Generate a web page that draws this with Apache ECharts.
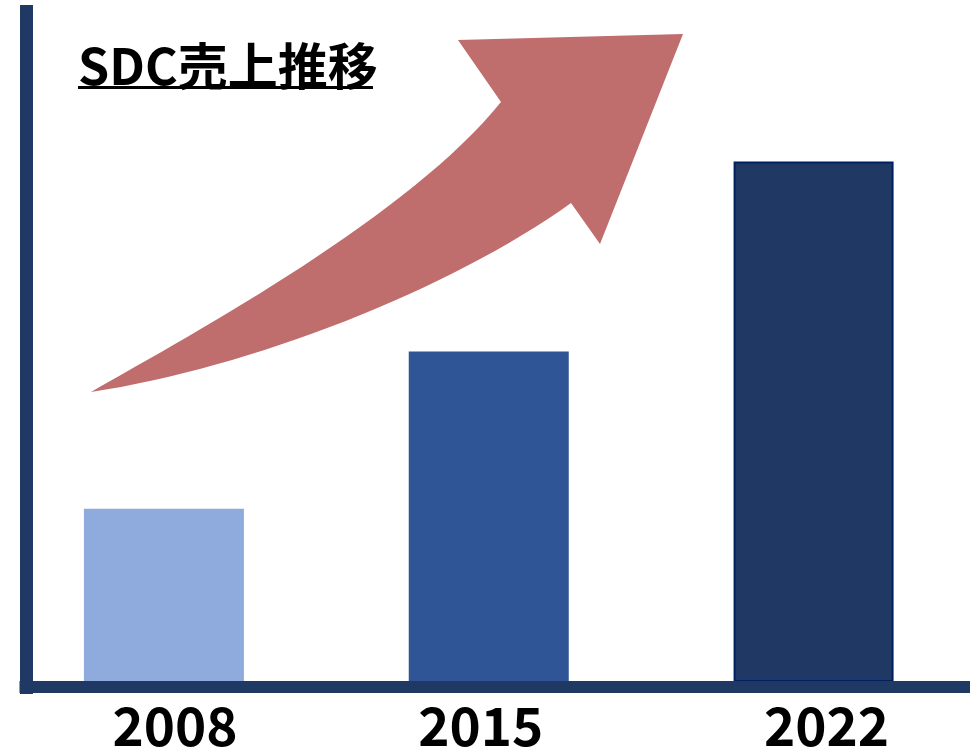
<!DOCTYPE html>
<html>
<head>
<meta charset="utf-8">
<script src="https://cdn.jsdelivr.net/npm/echarts@6/dist/echarts.min.js"></script>
<style>
  html, body { margin: 0; padding: 0; background: #fff; }
  #chart { width: 979px; height: 752px; }
</style>
</head>
<body>
<div id="chart"></div>
<script>
// SDC sales trend (relative values, axis max = 100)
const years = ["2008", "2015", "2022"];
const sales = [25.6, 48.8, 76.9];
const barColors = ["#8FAADC", "#2F5597", "#203864"];
const titleText = "SDC売上推移";

const axisColor = "#203864";
const font = "Noto Sans CJK JP";

// decorative rising arrow, registered as a shape so graphic can use it
const arrowPath =
  "M91 392 C200 330 410 215 501 102 L458 40 L683 34 L600 244 L571 203 C450 290 250 368 91 392 Z";
echarts.graphic.registerShape("risingArrow", echarts.graphic.extendPath(arrowPath, {}));

// labels in the original are not quite centred under the bars
const labelStyle = { fontSize: 53, fontWeight: "bold", color: "#000", fontFamily: font };
const labelRich = {
  l0: Object.assign({ padding: [0, 0, 0, 22] }, labelStyle),
  l1: Object.assign({ padding: [0, 16, 0, 0] }, labelStyle),
  l2: Object.assign({ padding: [0, 0, 0, 26] }, labelStyle)
};

const chart = echarts.init(document.getElementById("chart"));

const option = {
  animation: false,
  backgroundColor: "#fff",
  title: {
    text: titleText,
    left: 73,
    top: 36,
    textStyle: { fontSize: 50, fontWeight: "bold", color: "#000", fontFamily: font }
  },
  grid: [
    // bars
    { left: 1.5, right: 3, top: 5, bottom: 64 },
    // axis lines only (both axes run a little past zero so the corner is square)
    { left: 19.5, right: 9, top: 5, bottom: 58 }
  ],
  xAxis: [
    {
      type: "category",
      gridIndex: 0,
      data: years,
      axisLine: { show: false },
      axisTick: { show: false },
      axisLabel: Object.assign(
        {
          margin: 17,
          formatter: (v, i) => "{l" + i + "|" + v + "}",
          rich: labelRich
        },
        labelStyle
      )
    },
    {
      type: "value",
      gridIndex: 1,
      min: -1,
      max: 150,
      z: 5,
      axisLine: { show: true, onZero: true, lineStyle: { color: axisColor, width: 12, cap: "butt" } },
      axisTick: { show: false },
      axisLabel: { show: false },
      splitLine: { show: false }
    }
  ],
  yAxis: [
    {
      type: "value",
      gridIndex: 0,
      min: 0,
      max: 100,
      axisLine: { show: false },
      axisTick: { show: false },
      axisLabel: { show: false },
      splitLine: { show: false }
    },
    {
      type: "value",
      gridIndex: 1,
      min: -1,
      max: 100,
      z: 5,
      axisLine: { show: true, onZero: true, lineStyle: { color: axisColor, width: 13, cap: "butt" } },
      axisTick: { show: false },
      axisLabel: { show: false },
      splitLine: { show: false }
    }
  ],
  graphic: [
    // title underline
    {
      type: "rect",
      left: 78,
      top: 86,
      shape: { width: 295, height: 3 },
      style: { fill: "#000" }
    },
    // rising arrow
    {
      type: "risingArrow",
      z: 1,
      style: { fill: "#BF6D6D" }
    }
  ],
  series: [
    {
      type: "bar",
      xAxisIndex: 0,
      yAxisIndex: 0,
      barWidth: 160,
      z: 2,
      data: sales.map((v, i) => ({
        value: v,
        itemStyle: {
          color: barColors[i],
          borderColor: i === 2 ? "#002060" : barColors[i],
          borderWidth: i === 2 ? 2 : 0
        }
      }))
    }
  ]
};

chart.setOption(option);
</script>
</body>
</html>
